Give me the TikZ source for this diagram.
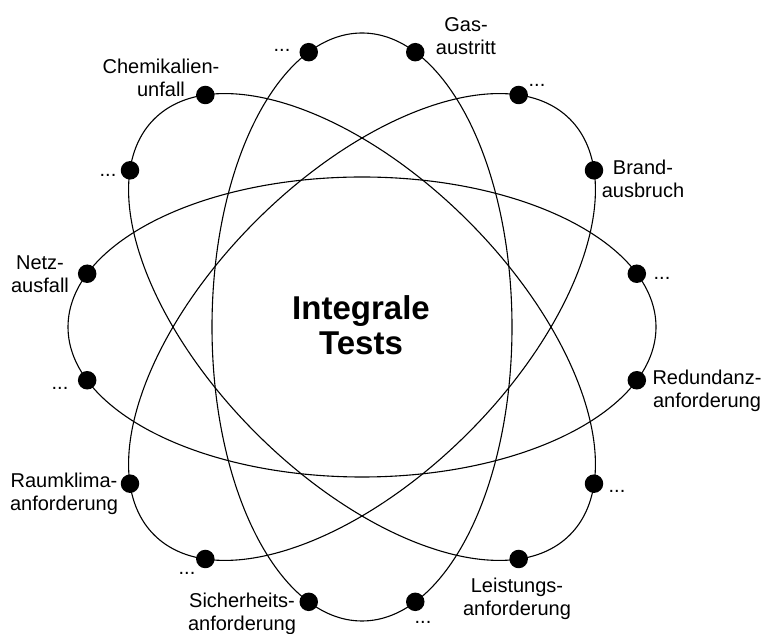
\documentclass[tikz,border=0pt]{standalone}
\usepackage{fontspec}
\setmainfont{Liberation Sans}
\begin{document}
\begin{tikzpicture}[x=1pt,y=1pt,
  dot/.style={circle,fill,inner sep=0pt,minimum size=18.5pt},
  lbl/.style={align=center,inner sep=0pt,font=\fontsize{20}{22.5}\selectfont},
  orbit/.style={line width=1.1pt}]
\useasboundingbox (0,0) rectangle (763,634);
\coordinate (c) at (362,307);
% horizontal orbit
\begin{scope}[shift={(c)}]
\draw[orbit] (0,0) ellipse[x radius=294pt,y radius=150pt];
\node[dot] (h1) at (20.8:294pt and 150pt){};
\node[dot] (h2) at (-20.8:294pt and 150pt){};
\node[dot] (h3) at (159.2:294pt and 150pt){};
\node[dot] (h4) at (200.8:294pt and 150pt){};
\end{scope}
% rising orbit
\begin{scope}[shift={(c)},rotate=45]
\draw[orbit] (0,0) ellipse[x radius=294pt,y radius=150pt];
\node[dot] (r1) at (20.8:294pt and 150pt){};
\node[dot] (r2) at (-20.8:294pt and 150pt){};
\node[dot] (r3) at (159.2:294pt and 150pt){};
\node[dot] (r4) at (200.8:294pt and 150pt){};
\end{scope}
% vertical orbit
\begin{scope}[shift={(c)},rotate=90]
\draw[orbit] (0,0) ellipse[x radius=294pt,y radius=150pt];
\node[dot] (v1) at (20.8:294pt and 150pt){};
\node[dot] (v2) at (-20.8:294pt and 150pt){};
\node[dot] (v3) at (159.2:294pt and 150pt){};
\node[dot] (v4) at (200.8:294pt and 150pt){};
\end{scope}
% falling orbit
\begin{scope}[shift={(c)},rotate=135]
\draw[orbit] (0,0) ellipse[x radius=294pt,y radius=150pt];
\node[dot] (f1) at (20.8:294pt and 150pt){};
\node[dot] (f2) at (-20.8:294pt and 150pt){};
\node[dot] (f3) at (159.2:294pt and 150pt){};
\node[dot] (f4) at (200.8:294pt and 150pt){};
\end{scope}
% labels
\node[font=\fontsize{33}{35}\selectfont\bfseries,align=center] (title) at (361,309) {Integrale\\Tests};
\node[lbl] (gas) at (466,598) {Gas-\\austritt};
\node[lbl] (dt1) at (282,584) {...};
\node[lbl] (chem) at (161,556) {Chemikalien-\\unfall};
\node[lbl] (dt2) at (108,459) {...};
\node[lbl] (netz) at (40,360) {Netz-\\ausfall};
\node[lbl] (dt3) at (60,246) {...};
\node[lbl] (raum) at (64,140) {Raumklima-\\anforderung};
\node[lbl] (dt4) at (187,61) {...};
\node[lbl] (sich) at (242,20) {Sicherheits-\\anforderung};
\node[lbl] (dt5) at (423,12) {...};
\node[lbl] (leis) at (517,35) {Leistungs-\\anforderung};
\node[lbl] (dt6) at (617,143) {...};
\node[lbl] (redu) at (707,243) {Redundanz-\\anforderung};
\node[lbl] (dt7) at (662,356) {...};
\node[lbl] (brand) at (643,455) {Brand-\\ausbruch};
\node[lbl] (dt8) at (537,549) {...};
\end{tikzpicture}
\end{document}
